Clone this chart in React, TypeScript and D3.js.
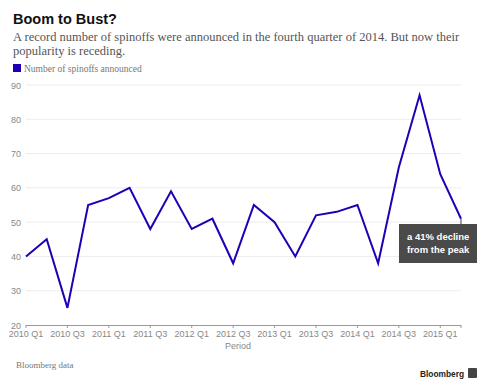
import React from "react";
import * as d3 from "d3";

const periods = [
  "2010 Q1","2010 Q2","2010 Q3","2010 Q4",
  "2011 Q1","2011 Q2","2011 Q3","2011 Q4",
  "2012 Q1","2012 Q2","2012 Q3","2012 Q4",
  "2013 Q1","2013 Q2","2013 Q3","2013 Q4",
  "2014 Q1","2014 Q2","2014 Q3","2014 Q4",
  "2015 Q1","2015 Q2",
];
const spinoffs = [40,45,25,55,57,60,48,59,48,51,38,55,50,40,52,53,55,38,66,87,64,51];
const yTicks = [20,30,40,50,60,70,80,90];
const xTickLabels = periods.filter((p) => p.endsWith("Q1") || p.endsWith("Q3"));

const W = 488, H = 389;
const LINE = "#2000b4";
const SANS = "'Liberation Sans', Arial, sans-serif";
const SERIF = "'Liberation Serif', serif";

export default function App() {
  const x = d3.scalePoint<string>().domain(periods).range([26, 461]);
  const y = d3.scaleLinear().domain([20, 90]).range([325, 85]);
  const line = d3.line<number>().x((_, i) => x(periods[i])!).y((d) => y(d));
  const last = spinoffs.length - 1;
  const lx = x(periods[last])!;
  const ly = y(spinoffs[last]);
  return (
    <svg width={W} height={H} style={{ position: "absolute", left: 0, top: 0, background: "#fff" }}>
      <text x={13} y={24} fontFamily={SANS} fontWeight="bold" fontSize={14.5} fill="#111">Boom to Bust?</text>
      <text x={13} y={41} fontFamily={SERIF} fontSize={12.5} fill="#555">A record number of spinoffs were announced in the fourth quarter of 2014. But now their</text>
      <text x={13} y={55} fontFamily={SERIF} fontSize={12.5} fill="#555">popularity is receding.</text>
      <rect x={13} y={64} width={8} height={8} fill={LINE} />
      <text x={24} y={72} fontFamily={SERIF} fontSize={9.5} fill="#777">Number of spinoffs announced</text>

      {yTicks.map((t) => (
        <g key={t}>
          {t > 20 && <line x1={26} x2={461} y1={y(t)} y2={y(t)} stroke="#ececec" strokeWidth={1} />}
          <text x={11} y={y(t) + 3.5} fontFamily={SANS} fontSize={9} fill="#888">{t}</text>
        </g>
      ))}
      <line x1={26} x2={461} y1={y(20) + 0.5} y2={y(20) + 0.5} stroke="#999" strokeWidth={1} />
      {xTickLabels.map((p) => (
        <g key={p}>
          <line x1={x(p)!} x2={x(p)!} y1={y(20)} y2={y(20) + 3} stroke="#999" />
          <text x={x(p)!} y={337} textAnchor="middle" fontFamily={SANS} fontSize={9} fill="#888">{p}</text>
        </g>
      ))}
      <line x1={461} x2={461} y1={y(20)} y2={y(20) + 3} stroke="#999" />
      <text x={238} y={349} textAnchor="middle" fontFamily={SANS} fontSize={9} fill="#888">Period</text>

      <path d={line(spinoffs)!} fill="none" stroke={LINE} strokeWidth={2} strokeLinejoin="miter" />

      <line x1={lx} x2={lx} y1={ly} y2={225} stroke="#444" strokeWidth={1} />
      <rect x={399} y={224} width={78} height={39} fill="#4a4a4a" />
      <text x={407} y={240} fontFamily={SANS} fontWeight="bold" fontSize={9.5} fill="#fff">a 41% decline</text>
      <text x={407} y={253} fontFamily={SANS} fontWeight="bold" fontSize={9.5} fill="#fff">from the peak</text>

      <text x={16} y={368} fontFamily={SERIF} fontSize={9} fill="#777">Bloomberg data</text>
      <text x={420} y={377} fontFamily={SANS} fontWeight="bold" fontSize={9.5} fill="#222" textLength={44} lengthAdjust="spacingAndGlyphs">Bloomberg</text>
      <rect x={468} y={368} width={9} height={10} fill="#444" rx={1} />
    </svg>
  );
}
